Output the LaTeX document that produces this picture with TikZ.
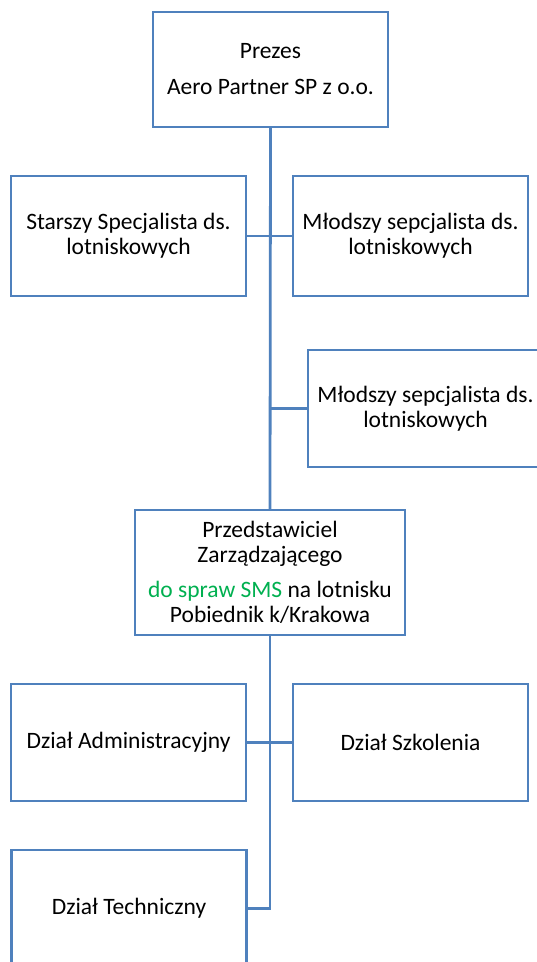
\documentclass[tikz,border=0pt]{standalone}
\usepackage{fontspec}
\setmainfont{Carlito}
\definecolor{boxblue}{RGB}{79,129,189}
\definecolor{smsgreen}{RGB}{0,176,80}
\begin{document}
\begin{tikzpicture}[x=1pt,y=-1pt,
  box/.style={draw=boxblue, line width=2.3pt, fill=white, inner sep=0pt, align=center,
    minimum width=235pt, minimum height=117pt,
    font=\fontsize{23.5}{25}\selectfont, text=black},
  conn/.style={draw=boxblue, line width=2.8pt}]
\useasboundingbox (0,0) rectangle (537,962);
\clip (0,0) rectangle (537,962);
\node[box, minimum height=115pt] (top) at (270.5,69.5) {Prezes\\[11pt] Aero Partner SP z o.o.};
\node[box, minimum height=120pt] (starszy) at (128.5,236) {Starszy Specjalista ds.\\lotniskowych};
\node[box, minimum height=120pt] (mlodszyA) at (410.5,236) {Młodszy sepcjalista ds.\\lotniskowych};
\node[box] (mlodszyB) at (425.5,408.5) {Młodszy sepcjalista ds.\\lotniskowych};
\node[box, minimum width=270pt, minimum height=125pt] (przed) at (270,572.5)
  {Przedstawiciel\\Zarządzającego\\[10pt]\textcolor{smsgreen}{do spraw SMS} na lotnisku\\Pobiednik k/Krakowa};
\node[box] (admin) at (128.5,742.5) {Dział Administracyjny};
\node[box] (szkol) at (410.5,742.5) {Dział Szkolenia};
\node[box] (tech) at (129,908.5) {Dział Techniczny};
\draw[conn] (top.south) -- (przed.north);
\draw[conn] (starszy.east) -- (mlodszyA.west);
\draw[conn] (mlodszyB.west) -- (mlodszyB.west -| top.south);
\draw[conn] (admin.east) -- (szkol.west);
\draw[conn] (przed.south) |- (tech.east);
\end{tikzpicture}
\end{document}
